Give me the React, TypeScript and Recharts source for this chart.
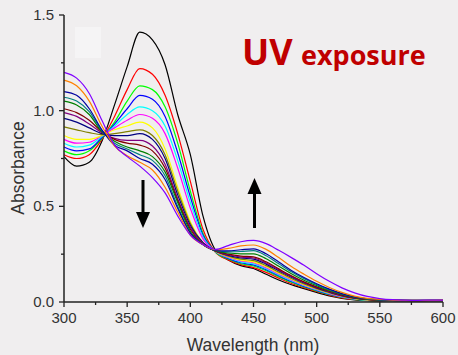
import React from "react";
import { LineChart, Line, XAxis, YAxis } from "recharts";

const wavelengths = [300,310,320,330,340,350,360,370,380,390,400,410,420,430,440,450,460,470,480,490,500,510,520,530,540,550,560,570,580,590,600];

const black = [0.76,0.71,0.73,0.84,1.03,1.23,1.41,1.37,1.24,0.98,0.77,0.45,0.27,0.22,0.19,0.175,0.145,0.115,0.09,0.07,0.05,0.032,0.019,0.011,0.007,0.005,0.004,0.004,0.003,0.004,0.004];
const red = [0.77,0.75,0.77,0.85,0.97,1.11,1.22,1.19,1.08,0.88,0.63,0.38,0.26,0.22,0.195,0.18,0.155,0.125,0.097,0.075,0.055,0.036,0.022,0.013,0.008,0.006,0.005,0.005,0.004,0.005,0.005];
const green = [0.79,0.77,0.79,0.855,0.94,1.05,1.13,1.11,1.02,0.83,0.58,0.36,0.26,0.225,0.2,0.188,0.163,0.132,0.103,0.079,0.058,0.039,0.024,0.014,0.009,0.007,0.006,0.005,0.005,0.005,0.005];
const blue = [0.81,0.79,0.8,0.86,0.93,1.01,1.08,1.06,0.97,0.78,0.55,0.35,0.262,0.228,0.205,0.194,0.169,0.137,0.107,0.082,0.061,0.041,0.026,0.015,0.01,0.007,0.006,0.006,0.005,0.005,0.006];
const cyan = [0.83,0.81,0.82,0.865,0.92,0.98,1.02,1.0,0.92,0.74,0.52,0.34,0.263,0.231,0.21,0.199,0.174,0.141,0.111,0.085,0.063,0.043,0.027,0.016,0.01,0.008,0.006,0.006,0.006,0.005,0.006];
const magenta = [0.85,0.83,0.835,0.87,0.91,0.95,0.98,0.96,0.88,0.7,0.49,0.33,0.264,0.234,0.215,0.205,0.179,0.146,0.115,0.088,0.066,0.045,0.028,0.017,0.011,0.008,0.007,0.006,0.006,0.006,0.006];
const yellow = [0.87,0.85,0.85,0.87,0.9,0.92,0.94,0.91,0.8,0.6,0.42,0.31,0.264,0.237,0.219,0.21,0.184,0.151,0.119,0.091,0.068,0.047,0.03,0.018,0.011,0.008,0.007,0.006,0.006,0.006,0.007];
const darkYellow = [0.915,0.9,0.885,0.875,0.88,0.89,0.9,0.87,0.77,0.58,0.41,0.31,0.265,0.24,0.224,0.216,0.19,0.156,0.123,0.094,0.07,0.049,0.031,0.019,0.012,0.009,0.007,0.007,0.006,0.007,0.007];
const navy = [0.96,0.94,0.91,0.88,0.87,0.87,0.88,0.85,0.75,0.56,0.4,0.31,0.266,0.244,0.23,0.224,0.198,0.163,0.129,0.099,0.074,0.052,0.033,0.02,0.013,0.009,0.008,0.007,0.007,0.007,0.007];
const purple = [0.99,0.97,0.93,0.885,0.855,0.845,0.845,0.815,0.72,0.54,0.39,0.305,0.266,0.247,0.235,0.23,0.204,0.168,0.133,0.102,0.077,0.054,0.034,0.021,0.014,0.01,0.008,0.007,0.007,0.007,0.008];
const wine = [1.01,0.99,0.95,0.89,0.85,0.83,0.82,0.79,0.7,0.53,0.38,0.3,0.267,0.25,0.24,0.236,0.21,0.173,0.137,0.105,0.079,0.056,0.036,0.022,0.014,0.01,0.008,0.008,0.007,0.008,0.008];
const olive = [1.05,1.03,0.98,0.89,0.84,0.81,0.79,0.76,0.68,0.52,0.37,0.3,0.268,0.256,0.252,0.252,0.226,0.187,0.148,0.114,0.086,0.06,0.039,0.024,0.015,0.011,0.009,0.008,0.008,0.008,0.008];
const darkCyan = [1.07,1.05,0.995,0.895,0.83,0.8,0.77,0.74,0.66,0.5,0.36,0.3,0.269,0.262,0.264,0.268,0.242,0.2,0.158,0.122,0.091,0.064,0.042,0.026,0.016,0.011,0.009,0.008,0.008,0.008,0.009];
const royal = [1.1,1.08,1.01,0.9,0.82,0.79,0.75,0.72,0.64,0.49,0.36,0.3,0.27,0.267,0.273,0.278,0.252,0.209,0.165,0.128,0.095,0.067,0.044,0.027,0.017,0.012,0.01,0.009,0.008,0.009,0.009];
const orange = [1.16,1.13,1.05,0.92,0.815,0.765,0.73,0.69,0.6,0.47,0.35,0.3,0.273,0.28,0.293,0.298,0.275,0.232,0.185,0.145,0.108,0.076,0.05,0.031,0.019,0.013,0.01,0.009,0.009,0.009,0.01];
const violet = [1.2,1.17,1.09,0.95,0.82,0.76,0.71,0.65,0.57,0.45,0.35,0.3,0.275,0.295,0.315,0.322,0.305,0.27,0.232,0.192,0.148,0.108,0.074,0.048,0.029,0.018,0.012,0.01,0.009,0.01,0.01];

const seriesList = [
  { key: "s01", values: black, color: "#000000" },
  { key: "s02", values: red, color: "#ff0000" },
  { key: "s03", values: green, color: "#00ff00" },
  { key: "s04", values: blue, color: "#0000ff" },
  { key: "s05", values: cyan, color: "#00ffff" },
  { key: "s06", values: magenta, color: "#ff00ff" },
  { key: "s07", values: yellow, color: "#ffff00" },
  { key: "s08", values: darkYellow, color: "#808000" },
  { key: "s09", values: navy, color: "#000080" },
  { key: "s10", values: purple, color: "#800080" },
  { key: "s11", values: wine, color: "#800000" },
  { key: "s12", values: olive, color: "#008000" },
  { key: "s13", values: darkCyan, color: "#008080" },
  { key: "s14", values: royal, color: "#0000a0" },
  { key: "s15", values: orange, color: "#ff8000" },
  { key: "s16", values: violet, color: "#8000ff" },
];

const xTicks = [300,325,350,375,400,425,450,475,500,525,550,575,600];
const yTicks = [0,0.25,0.5,0.75,1.0,1.25,1.5];
const yLabels: Record<string, string> = { "0": "0.0", "0.5": "0.5", "1": "1.0", "1.5": "1.5" };

const data = wavelengths.map((w, i) => {
  const row: Record<string, number> = { wl: w };
  seriesList.forEach((s) => { row[s.key] = s.values[i]; });
  return row;
});

const FONT = "'Liberation Sans', Arial, sans-serif";
const AXIS = "#222";
const TXT = "#333";

const XTick = (props: any) => {
  const { x, y, payload } = props;
  const major = payload.value % 50 === 0;
  return (
    <g>
      <line x1={x} y1={y} x2={x} y2={y + (major ? 5 : 3)} stroke={AXIS} strokeWidth={1.3} />
      {major && (
        <text x={x} y={y + 21} textAnchor="middle" fontSize={15} fill={TXT} fontFamily={FONT}>
          {payload.value}
        </text>
      )}
    </g>
  );
};

const YTick = (props: any) => {
  const { x, y, payload } = props;
  const lbl = yLabels[String(payload.value)];
  return (
    <g>
      <line x1={x} y1={y} x2={x - (lbl ? 5 : 3)} y2={y} stroke={AXIS} strokeWidth={1.3} />
      {lbl && (
        <text x={x - 10} y={y + 5} textAnchor="end" fontSize={15} fill={TXT} fontFamily={FONT}>
          {lbl}
        </text>
      )}
    </g>
  );
};

export default function App() {
  return (
    <div style={{ position: "absolute", left: 0, top: 0, width: 458, height: 355, background: "#f0eeef", overflow: "hidden" }}>
      <svg width={458} height={355} style={{ position: "absolute", left: 0, top: 0 }}>
        <rect x={75} y={27} width={26} height={31} fill="#f5f4f5" />
      </svg>
      <div style={{ position: "absolute", left: 0, top: 0 }}>
        <LineChart width={458} height={355} data={data} margin={{ top: 15, right: 15, left: 0, bottom: 0 }}>
          <XAxis
            dataKey="wl"
            type="number"
            domain={[300, 600]}
            ticks={xTicks}
            interval={0}
            height={53}
            tickSize={0}
            tickMargin={0}
            tickLine={false}
            tick={<XTick />}
            axisLine={{ stroke: AXIS, strokeWidth: 1.5 }}
          />
          <XAxis
            xAxisId="top"
            orientation="top"
            dataKey="wl"
            type="number"
            domain={[300, 600]}
            height={0}
            tick={false}
            tickLine={false}
            axisLine={{ stroke: AXIS, strokeWidth: 1.5 }}
          />
          <YAxis
            type="number"
            domain={[0, 1.5]}
            ticks={yTicks}
            interval={0}
            width={64}
            tickSize={0}
            tickMargin={0}
            tickLine={false}
            tick={<YTick />}
            axisLine={{ stroke: AXIS, strokeWidth: 1.5 }}
          />
          <YAxis
            yAxisId="right"
            orientation="right"
            type="number"
            domain={[0, 1.5]}
            width={0}
            tick={false}
            tickLine={false}
            axisLine={{ stroke: AXIS, strokeWidth: 1.5 }}
          />
          {seriesList.map((s) => (
            <Line
              key={s.key}
              dataKey={s.key}
              type="monotone"
              stroke={s.color}
              strokeWidth={1.2}
              dot={false}
              activeDot={false}
              isAnimationActive={false}
            />
          ))}
        </LineChart>
      </div>
      <svg width={458} height={355} style={{ position: "absolute", left: 0, top: 0, pointerEvents: "none" }}>
        <text x={253} y={351} textAnchor="middle" fontSize={17.5} fill={TXT} fontFamily={FONT}>Wavelength (nm)</text>
        <text x={24} y={168} textAnchor="middle" fontSize={17.5} fill={TXT} fontFamily={FONT} transform="rotate(-90 24 168)">Absorbance</text>
        <text x={242} y={65} fill="#c00000" fontFamily="'Open Sans', sans-serif" fontWeight="bold">
          <tspan fontSize={36}>UV</tspan>
          <tspan x={301} fontSize={27}>exposure</tspan>
        </text>
        <g fill="#000" stroke="none">
          <rect x={141.5} y={180} width={3} height={35} />
          <polygon points="136,212 150,212 143,228" />
          <rect x={253} y={192} width={3} height={36} />
          <polygon points="247.5,194 261.5,194 254.5,178" />
        </g>
      </svg>
    </div>
  );
}
